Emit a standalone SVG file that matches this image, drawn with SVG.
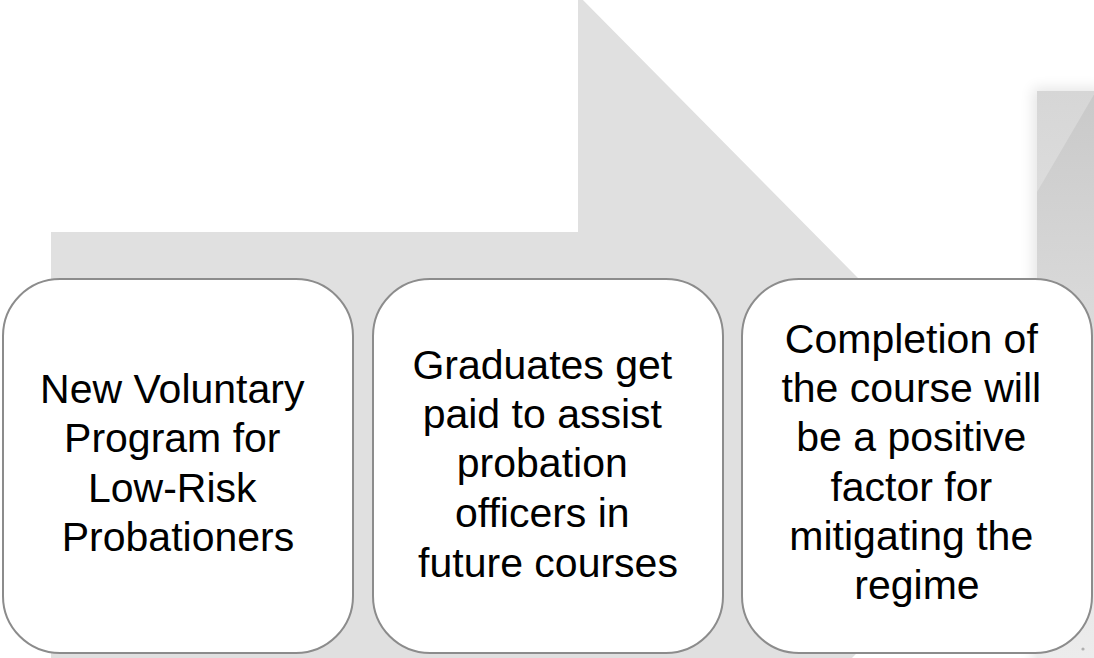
<svg xmlns="http://www.w3.org/2000/svg" width="1094" height="658" viewBox="0 0 1094 658">
  <defs>
    <style>
      .box { fill: #ffffff; stroke: #8c8c8c; stroke-width: 2; }
      .lbl { font-family: "Liberation Sans", Arial, sans-serif; font-size: 41px; fill: #000000; text-anchor: middle; }
    </style>
    <linearGradient id="sideGrad" x1="0" y1="0" x2="0" y2="1">
      <stop offset="0" stop-color="#c9c9c9"/>
      <stop offset="0.5" stop-color="#dedede"/>
      <stop offset="1" stop-color="#ececec"/>
    </linearGradient>
    <linearGradient id="sideLight" x1="0" y1="0" x2="0" y2="1">
      <stop offset="0" stop-color="#d6d6d6"/>
      <stop offset="1" stop-color="#dcdcdc"/>
    </linearGradient>
    <filter id="soft" x="-50%" y="-20%" width="200%" height="140%">
      <feGaussianBlur stdDeviation="7"/>
    </filter>
  </defs>
  <rect width="1094" height="658" fill="#ffffff"/>

  <g id="background-arrow">
    <polygon points="51,232 578,232 578,-5 1043,465 850,660 51,660" fill="#e0e0e0"/>
  </g>

  <g id="side-panel">
    <rect x="1033" y="88" width="70" height="580" fill="#000000" opacity="0.10" filter="url(#soft)"/>
    <rect x="1037" y="91" width="57" height="567" fill="url(#sideGrad)"/>
    <polygon points="1037,91 1096,91 1037,192" fill="url(#sideLight)"/>
    <circle cx="1083" cy="649" r="1.6" fill="#b0b0b0"/>
  </g>

  <g id="connectors"></g>

  <g id="node1">
    <rect class="box" x="3" y="279" width="350" height="374" rx="57" ry="57"/>
    <text class="lbl">
      <tspan x="178" y="403">New Voluntary</tspan>
      <tspan x="178" y="452">Program for</tspan>
      <tspan x="178" y="502">Low-Risk</tspan>
      <tspan x="178" y="551">Probationers</tspan>
    </text>
  </g>

  <g id="node2">
    <rect class="box" x="373" y="279" width="350" height="374" rx="57" ry="57"/>
    <text class="lbl">
      <tspan x="548" y="379">Graduates get</tspan>
      <tspan x="548" y="428">paid to assist</tspan>
      <tspan x="548" y="477">probation</tspan>
      <tspan x="548" y="527">officers in</tspan>
      <tspan x="548" y="577">future courses</tspan>
    </text>
  </g>

  <g id="node3">
    <rect class="box" x="742" y="279" width="350" height="374" rx="57" ry="57"/>
    <text class="lbl">
      <tspan x="917" y="353">Completion of</tspan>
      <tspan x="917" y="402">the course will</tspan>
      <tspan x="917" y="451">be a positive</tspan>
      <tspan x="917" y="501">factor for</tspan>
      <tspan x="917" y="550">mitigating the</tspan>
      <tspan x="917" y="599">regime</tspan>
    </text>
  </g>
</svg>
